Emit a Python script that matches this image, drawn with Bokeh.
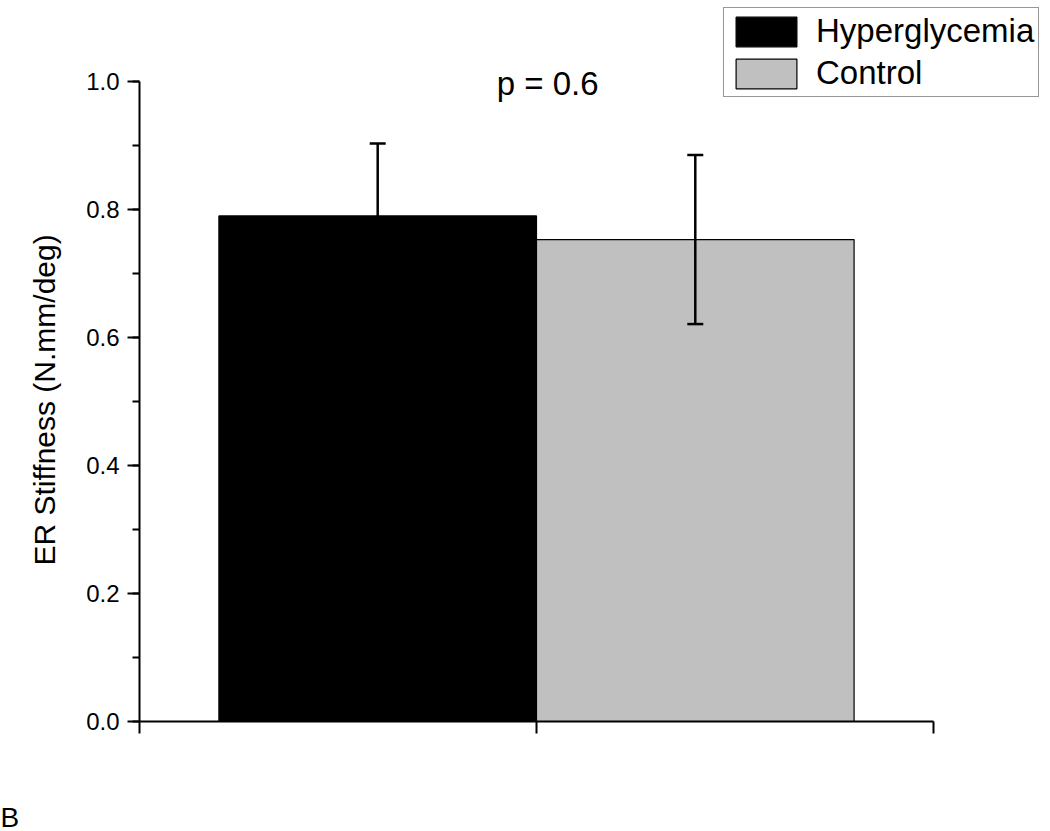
from bokeh.plotting import figure
from bokeh.models import (ColumnDataSource, Range1d, SingleIntervalTicker, FixedTicker,
                          Whisker, TeeHead, Legend, LegendItem, Label, Title,
                          CustomJSTickFormatter)
from bokeh.embed import file_html
from bokeh.resources import INLINE

groups = ["Hyperglycemia", "Control"]
positions = [0.6, 1.4]
means = [0.79, 0.753]
errors = [0.113, 0.132]
colors = ["#000000", "#c0c0c0"]
y_ticks_interval = 0.2
y_label = "ER Stiffness (N.mm/deg)"
p_text = "p = 0.6"
panel_letter = "B"

FONT = "Liberation Sans"

src = ColumnDataSource(dict(
    x=positions, top=means, color=colors, name=groups,
    upper=[m + e for m, e in zip(means, errors)],
    lower=[m - e for m, e in zip(means, errors)],
))

# frame extends beyond the drawn axes so the legend above the axes is not clipped
p = figure(width=1042, height=823, output_backend="svg", toolbar_location=None,
           x_range=Range1d(0, 2.2746), y_range=Range1d(0, 1.1266),
           frame_width=903, frame_height=721,
           min_border_left=139, min_border_right=0, min_border_top=0,
           min_border_bottom=102)
p.outline_line_color = None
p.grid.visible = False
p.background_fill_color = "white"

renderers = []
for i in range(len(groups)):
    r = p.vbar(x=[positions[i]], top=[means[i]], width=0.8, bottom=0,
               fill_color=colors[i], line_color="black", line_width=1.2)
    renderers.append(r)

w = Whisker(source=src, base="x", upper="upper", lower="lower",
            line_color="black", line_width=2.5, level="annotation",
            upper_head=TeeHead(size=16, line_width=2.5, line_color="black"),
            lower_head=TeeHead(size=16, line_width=2.5, line_color="black"))
p.add_layout(w)

# axes
p.xaxis.bounds = (0, 2)
p.xaxis.ticker = FixedTicker(ticks=[0, 1, 2])
p.xaxis.major_label_text_font_size = "0px"
p.xaxis.major_label_text_color = None
p.xaxis.major_tick_out = 12
p.xaxis.major_tick_in = 0
p.xaxis.minor_tick_line_color = None
p.xaxis.axis_line_width = 2
p.xaxis.major_tick_line_width = 2

p.yaxis.bounds = (0, 1.0)
p.yaxis.ticker = SingleIntervalTicker(interval=y_ticks_interval, num_minor_ticks=2)
p.yaxis.formatter = CustomJSTickFormatter(code="return tick.toFixed(1);")
p.yaxis.major_tick_out = 12
p.yaxis.major_tick_in = 0
p.yaxis.minor_tick_out = 7
p.yaxis.minor_tick_in = 0
p.yaxis.axis_line_width = 2
p.yaxis.major_tick_line_width = 2
p.yaxis.minor_tick_line_width = 2
p.yaxis.major_label_text_font = FONT
p.yaxis.major_label_text_font_size = "24px"
p.yaxis.major_label_text_color = "black"
p.yaxis.major_label_standoff = 8

# y-axis title, placed along the drawn axis (0..1) rather than the whole frame
p.add_layout(Title(text=y_label, align="left", offset=156,
                   text_font=FONT, text_font_size="30px",
                   text_font_style="normal", text_color="black",
                   standoff=46), "left")

legend = Legend(items=[LegendItem(label=g, renderers=[r]) for g, r in zip(groups, renderers)],
                location=(584, 624), glyph_width=76, glyph_height=37,
                label_text_font=FONT, label_text_font_size="33px",
                label_text_color="black",
                label_standoff=12, padding=4, spacing=4, margin=0,
                border_line_color="#303030", border_line_width=1.5,
                label_height=37)
p.add_layout(legend, "center")

p.add_layout(Label(x=1.028, y=0.997, text=p_text, text_align="center",
                   text_baseline="alphabetic", text_font=FONT,
                   text_font_size="33px", text_color="black"))

p.add_layout(Title(text=panel_letter, align="left", offset=-139,
                   text_font=FONT, text_font_size="28px",
                   text_font_style="normal", text_color="black",
                   standoff=132), "below")

open("out.html", "w").write(file_html(p, INLINE))
